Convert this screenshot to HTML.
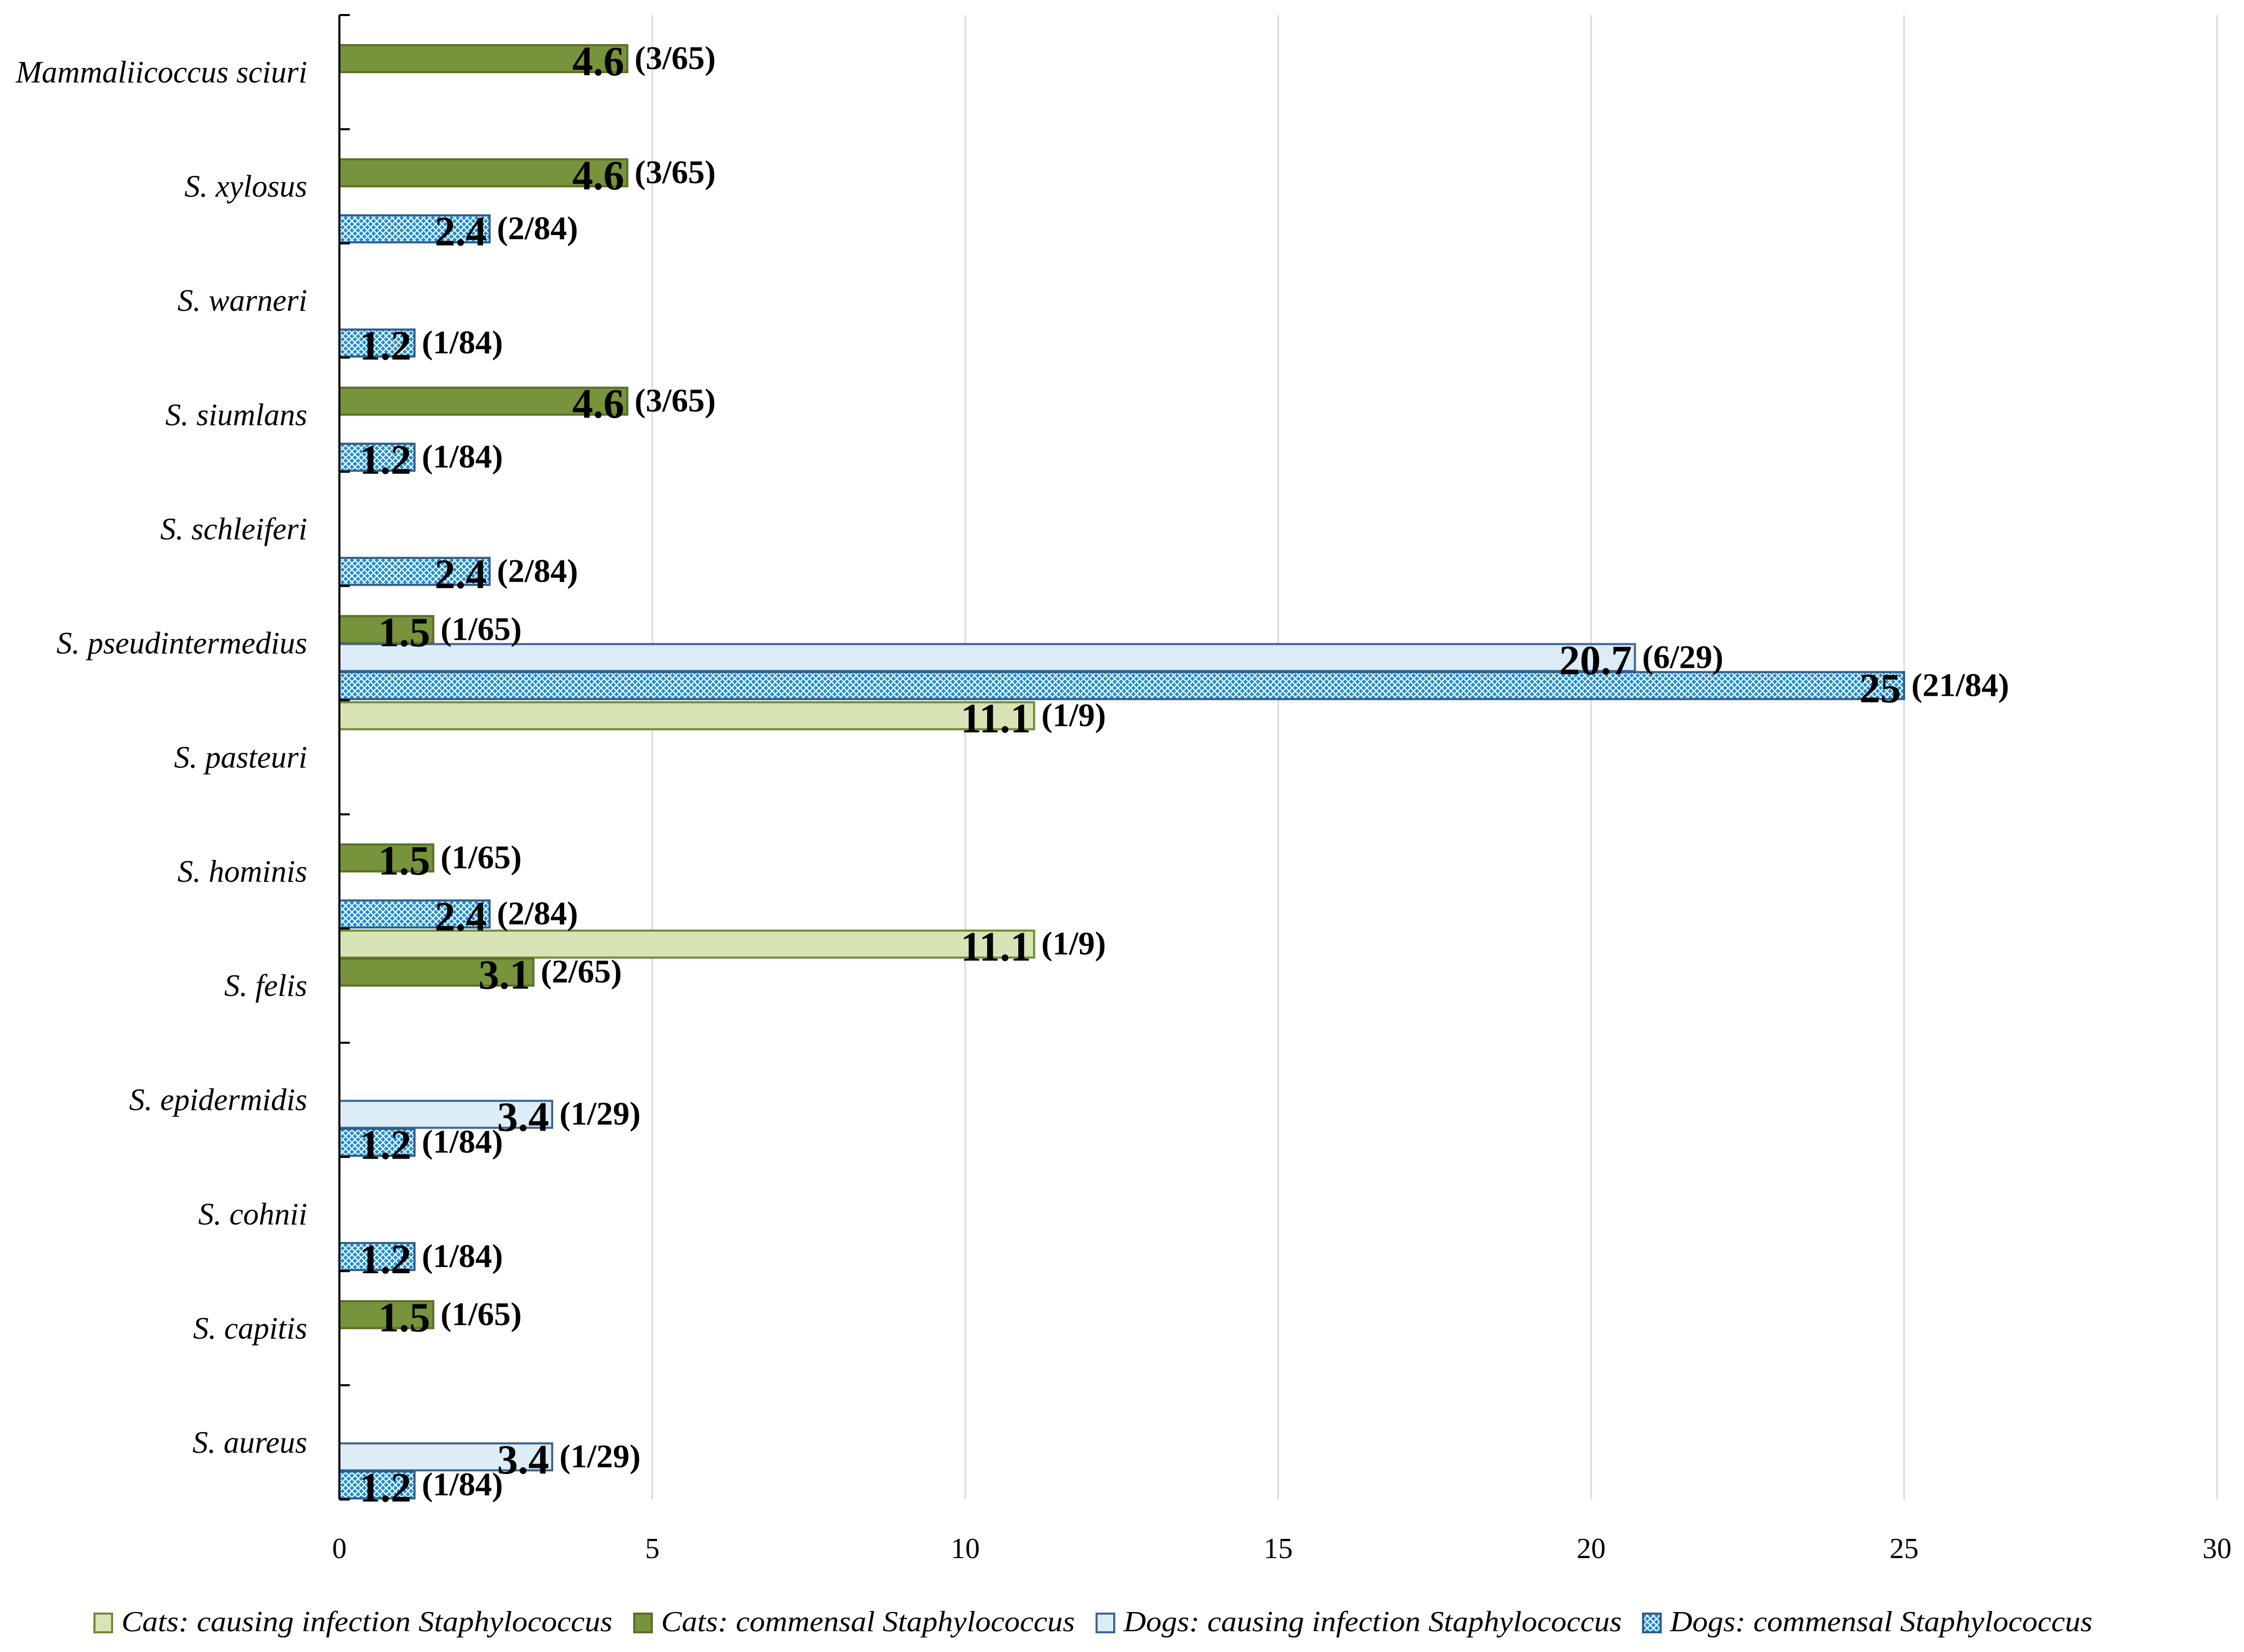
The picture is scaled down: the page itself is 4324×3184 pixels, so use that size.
<!DOCTYPE html>
<html><head><meta charset="utf-8"><style>
html,body{margin:0;padding:0;background:#fff;}
svg{display:block;}
text{font-family:"Liberation Serif",serif;}
</style></head><body>
<svg id="chart" width="4324" height="3184" viewBox="0 0 4324 3184" xmlns="http://www.w3.org/2000/svg">
<defs>
<pattern id="dots" patternUnits="userSpaceOnUse" width="12" height="12">
<rect width="12" height="12" fill="#1e8fd2"/>
<path d="M0 0L6 6L0 12M12 0L6 6L12 12" stroke="#ffffff" stroke-width="2.2" fill="none"/>
</pattern>
</defs>
<g id="grid"></g><g id="bars"></g><g id="labels"></g><g id="axes"></g><g id="legend"></g>
</svg>
<script>
const categories=["Mammaliicoccus sciuri","S. xylosus","S. warneri","S. siumlans","S. schleiferi","S. pseudintermedius","S. pasteuri","S. hominis","S. felis","S. epidermidis","S. cohnii","S. capitis","S. aureus"];
const catInfection=[null,null,null,null,null,null,11.1,null,11.1,null,null,null,null];
const catInfectionFrac=["","","","","","","(1/9)","","(1/9)","","","",""];
const catCommensal=[4.6,4.6,null,4.6,null,1.5,null,1.5,3.1,null,null,1.5,null];
const catCommensalFrac=["(3/65)","(3/65)","","(3/65)","","(1/65)","","(1/65)","(2/65)","","","(1/65)",""];
const dogInfection=[null,null,null,null,null,20.7,null,null,null,3.4,null,null,3.4];
const dogInfectionFrac=["","","","","","(6/29)","","","","(1/29)","","","(1/29)"];
const dogCommensal=[null,2.4,1.2,1.2,2.4,25,null,2.4,null,1.2,1.2,null,1.2];
const dogCommensalFrac=["","(2/84)","(1/84)","(1/84)","(2/84)","(21/84)","","(2/84)","","(1/84)","(1/84)","","(1/84)"];
const xTicks=[0,5,10,15,20,25,30];
const seriesNames=["Cats: causing infection Staphylococcus","Cats: commensal Staphylococcus","Dogs: causing infection Staphylococcus","Dogs: commensal Staphylococcus"];

const NS="http://www.w3.org/2000/svg";
const X0=654,X1=4272,YT=29,YB=2890;
const band=(YB-YT)/categories.length;
function xs(v){return X0+(X1-X0)*v/30;}
function bandTop(i){return YT+i*band;}
function mk(tag,attrs,parent,txt){const e=document.createElementNS(NS,tag);for(const k in attrs)e.setAttribute(k,attrs[k]);if(txt!==undefined)e.textContent=txt;parent.appendChild(e);return e;}
const grid=document.getElementById('grid'),bars=document.getElementById('bars'),labels=document.getElementById('labels'),axes=document.getElementById('axes'),legend=document.getElementById('legend');

xTicks.forEach(t=>{
  if(t>0){const g=mk('line',{x1:xs(t),x2:xs(t),y1:YT,y2:YB,stroke:'#d9d9d9','stroke-width':3},grid);
  
  }
  const tl=mk('text',{x:xs(t),y:3003,'font-size':56,'text-anchor':'middle',fill:'#000'},axes,String(t));
  
  
});
const ax=mk('line',{x1:X0,x2:X0,y1:YT,y2:YB,stroke:'#000','stroke-width':4},axes);


for(let i=0;i<=categories.length;i++){
  const tk=mk('line',{x1:X0,x2:X0+20,y1:bandTop(i),y2:bandTop(i),stroke:'#000','stroke-width':4},axes);
  
  
}
categories.forEach((c,i)=>{
  const t=mk('text',{x:592,y:bandTop(i)+band/2+20,'font-size':60,'font-style':'italic','text-anchor':'end',fill:'#000'},axes,c);
  
  
});

const series=[
 {vals:catInfection,frac:catInfectionFrac,fill:'#d8e4b6',stroke:'#6f8c30',name:'cats-infection'},
 {vals:catCommensal,frac:catCommensalFrac,fill:'#77933c',stroke:'#5a7028',name:'cats-commensal'},
 {vals:dogInfection,frac:dogInfectionFrac,fill:'#dcedf7',stroke:'#3f6692',name:'dogs-infection'},
 {vals:dogCommensal,frac:dogCommensalFrac,fill:'url(#dots)',stroke:'#2d5d8c',name:'dogs-commensal'}
];
const slot=54,bh=52;
series.forEach((s,k)=>{
  s.vals.forEach((v,i)=>{
    if(v===null)return;
    const y=bandTop(i)+4+k*slot;
    const r=mk('rect',{x:X0,y:y,width:xs(v)-X0,height:bh,fill:s.fill,stroke:s.stroke,'stroke-width':4},bars);
    
    
    const vl=mk('text',{x:xs(v)-6,y:y+bh+6,'font-size':80,'font-weight':'bold','text-anchor':'end',fill:'#000'},labels,String(v));
    
    
    const fl=mk('text',{x:xs(v)+14,y:y+bh-6,'font-size':64,'font-weight':'bold',fill:'#000'},labels,s.frac[i]);
    
    
  });
});

const legX=[182,1222,2113,3166],legW=[946,797,960,814];
series.forEach((s,k)=>{
  const sw=mk('rect',{x:legX[k],y:3110,width:34,height:36,fill:s.fill,stroke:s.stroke,'stroke-width':4},legend);
  
  
  const lt=mk('text',{x:legX[k]+52,y:3144,'font-size':56,'font-style':'italic',fill:'#000',textLength:legW[k],lengthAdjust:'spacingAndGlyphs'},legend,seriesNames[k]);
  
  
});
</script>
</body></html>
